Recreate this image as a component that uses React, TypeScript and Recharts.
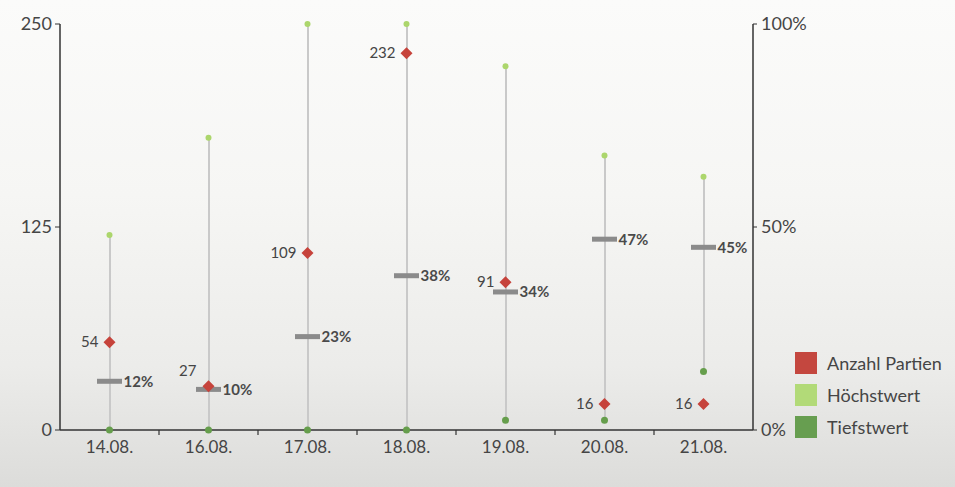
import React from 'react';
import { ComposedChart, Bar, Line, XAxis, YAxis } from 'recharts';

const categories = ['14.08.', '16.08.', '17.08.', '18.08.', '19.08.', '20.08.', '21.08.'];
const anzahlPartien = [54, 27, 109, 232, 91, 16, 16];
const hoechstwert = [120, 180, 250, 250, 224, 169, 156];
const tiefstwert = [0, 0, 0, 0, 6, 6, 36];
const anteilProzent = [12, 10, 23, 38, 34, 47, 45];
const leftTicks = [0, 125, 250];
const rightTicks = [0, 50, 100];

const legendItems = [
  { name: 'Anzahl Partien', color: '#c4473f' },
  { name: 'Höchstwert', color: '#b2da78' },
  { name: 'Tiefstwert', color: '#679e50' },
];

const data = categories.map((cat, i) => ({
  cat,
  range: [tiefstwert[i], hoechstwert[i]],
  hoch: hoechstwert[i],
  tief: tiefstwert[i],
  anzahl: anzahlPartien[i],
  pct: anteilProzent[i],
}));

const W = 955;
const H = 487;
const MARGIN = { top: 24, right: 142, bottom: 27, left: 0 };
const AXIS_W = 60;
const PLOT_W = W - MARGIN.left - MARGIN.right - 2 * AXIS_W;
const HALF_BAND = PLOT_W / categories.length / 2;
const FONT = 'Lato, "Open Sans", sans-serif';
const TEXT = '#454545';

const XTick = (props: any) => {
  const { x, y, payload, index } = props;
  return (
    <g>
      <text x={x} y={y + 23} textAnchor="middle" fontSize={17} fill={TEXT} fontFamily={FONT}>
        {payload.value}
      </text>
      {index < categories.length - 1 && (
        <line x1={x + HALF_BAND} x2={x + HALF_BAND} y1={y} y2={y + 5} stroke="#333" strokeWidth={1.2} />
      )}
    </g>
  );
};

const HighDot = (props: any) => {
  const { cx, cy } = props;
  if (cx == null || cy == null) return null;
  return <circle cx={cx} cy={cy} r={3} fill="#acd66c" />;
};
const LowDot = (props: any) => {
  const { cx, cy } = props;
  if (cx == null || cy == null) return null;
  return <circle cx={cx} cy={cy} r={3.5} fill="#669e4c" />;
};
const Diamond = (props: any) => {
  const { cx, cy } = props;
  if (cx == null || cy == null) return null;
  const r = 6;
  return (
    <polygon
      points={`${cx},${cy - r} ${cx + r},${cy} ${cx},${cy + r} ${cx - r},${cy}`}
      fill="#c6433b"
    />
  );
};
const PctBar = (props: any) => {
  const { cx, cy } = props;
  if (cx == null || cy == null) return null;
  return <rect x={cx - 12.5} y={cy - 2.5} width={25} height={5} fill="#8b8b8b" />;
};

const AnzahlLabel = (props: any) => {
  const { x, y, value, index } = props;
  const close = Math.abs(anzahlPartien[index] / 250 - anteilProzent[index] / 100) < 0.015;
  return (
    <text
      x={close ? x - 12 : x - 11}
      y={close ? y - 10 : y + 5}
      textAnchor="end"
      fontSize={15}
      fill={TEXT}
      fontFamily={FONT}
    >
      {value}
    </text>
  );
};

const PctLabel = (props: any) => {
  const { x, y, value } = props;
  return (
    <text x={x + 14} y={y + 5.5} textAnchor="start" fontSize={15} fontWeight="bold" fill="#4a4a4a" fontFamily={FONT}>
      {value}%
    </text>
  );
};

export default function App() {
  return (
    <div
      style={{
        position: 'absolute',
        left: 0,
        top: 0,
        width: W,
        height: H,
        background: 'linear-gradient(to bottom, #fbfbfa 0%, #f6f6f4 40%, #ececea 75%, #dcdcda 100%)',
        fontFamily: FONT,
      }}
    >
      <ComposedChart width={W} height={H} data={data} margin={MARGIN}>
        <XAxis
          dataKey="cat"
          xAxisId="x"
          axisLine={{ stroke: '#333', strokeWidth: 1.5 }}
          tickLine={false}
          tickSize={0}
          tickMargin={0}
          height={30}
          interval={0}
          tick={<XTick />}
        />
        <YAxis
          yAxisId="left"
          domain={[0, 250]}
          ticks={leftTicks}
          width={AXIS_W}
          axisLine={{ stroke: '#333', strokeWidth: 1.5 }}
          tickLine={{ stroke: '#333' }}
          tickSize={5}
          tickMargin={3}
          tick={{ fontSize: 18, fill: TEXT, fontFamily: FONT }}
        />
        <YAxis
          yAxisId="right"
          orientation="right"
          domain={[0, 100]}
          ticks={rightTicks}
          width={AXIS_W}
          tickFormatter={(v: number) => `${v}%`}
          axisLine={{ stroke: '#333', strokeWidth: 1.5 }}
          tickLine={{ stroke: '#333' }}
          tickSize={4}
          tickMargin={4}
          tick={{ fontSize: 18, fill: TEXT, fontFamily: FONT }}
        />
        <Bar dataKey="range" xAxisId="x" yAxisId="left" barSize={2} fill="#c9c9c9" isAnimationActive={false} />
        <Line dataKey="hoch" xAxisId="x" yAxisId="left" stroke="none" dot={<HighDot />} activeDot={false} isAnimationActive={false} />
        <Line dataKey="tief" xAxisId="x" yAxisId="left" stroke="none" dot={<LowDot />} activeDot={false} isAnimationActive={false} />
        <Line
          dataKey="pct"
          xAxisId="x"
          yAxisId="right"
          stroke="none"
          dot={<PctBar />}
          activeDot={false}
          label={<PctLabel />}
          isAnimationActive={false}
        />
        <Line
          dataKey="anzahl"
          xAxisId="x"
          yAxisId="left"
          stroke="none"
          dot={<Diamond />}
          activeDot={false}
          label={<AnzahlLabel />}
          isAnimationActive={false}
        />
      </ComposedChart>
      <div style={{ position: 'absolute', left: 795, top: 347 }}>
        {legendItems.map((it) => (
          <div key={it.name} style={{ display: 'flex', alignItems: 'center', height: 32 }}>
            <div style={{ width: 22, height: 22, background: it.color, marginRight: 10 }} />
            <span style={{ fontSize: 18, color: TEXT, fontFamily: FONT }}>{it.name}</span>
          </div>
        ))}
      </div>
    </div>
  );
}
